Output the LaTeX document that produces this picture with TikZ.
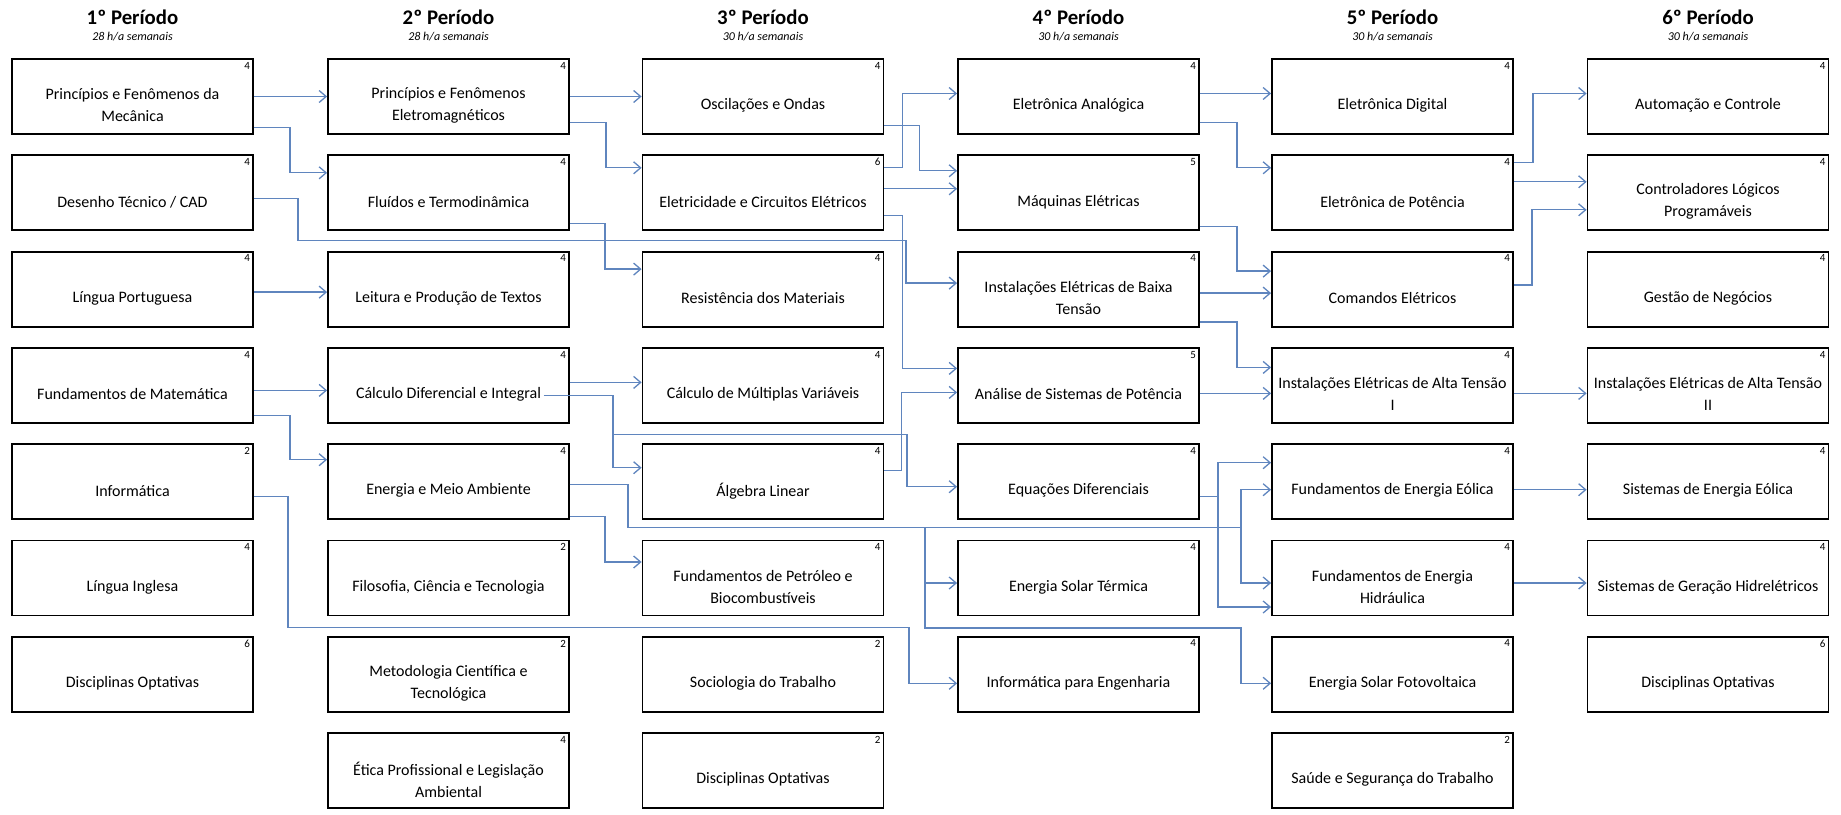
\documentclass[tikz,border=0pt]{standalone}
\usepackage{fontspec}
\setmainfont{Carlito}
\usetikzlibrary{arrows.meta, calc}
\definecolor{liga}{RGB}{95,133,190}

\tikzset{
  caixa/.style={draw, line width=0.9pt, minimum width=120.5pt, minimum height=37.5pt, inner sep=0pt},
  num/.style={anchor=north east, inner sep=1.8pt, font=\fontsize{5.5}{6}\selectfont},
  txt/.style={align=center, yshift=-4.5pt, font=\fontsize{8}{11}\selectfont},
  disc/.style 2 args={caixa, label={[num]north east:#1}, label={[txt]center:{#2}}},
  seta/.style={draw=liga, line width=0.65pt, -{Straight Barb[length=3.5pt, width=6pt]}},
  periodo/.style={font=\bfseries\fontsize{10.4}{12}\selectfont},
  horas/.style={font=\itshape\fontsize{6}{7}\selectfont},
}

\begin{document}
\begin{tikzpicture}[x=0.5pt, y=-0.5pt]
  \useasboundingbox (0,0) rectangle (1841,814);

  % titres des periodes
  \node[periodo] (h1) at (132.5,17) {1º Período};
  \node[horas] (s1) at (132.5,37) {28 h/a semanais};
  \node[periodo] (h2) at (448.5,17) {2º Período};
  \node[horas] (s2) at (448.5,37) {28 h/a semanais};
  \node[periodo] (h3) at (763,17) {3º Período};
  \node[horas] (s3) at (763,37) {30 h/a semanais};
  \node[periodo] (h4) at (1078.5,17) {4º Período};
  \node[horas] (s4) at (1078.5,37) {30 h/a semanais};
  \node[periodo] (h5) at (1392.5,17) {5º Período};
  \node[horas] (s5) at (1392.5,37) {30 h/a semanais};
  \node[periodo] (h6) at (1708,17) {6º Período};
  \node[horas] (s6) at (1708,37) {30 h/a semanais};

  % 1o periodo
  \node[disc={4}{Princípios e Fenômenos da\\Mecânica}] (a1) at (132.5,96.5) {};
  \node[disc={4}{Desenho Técnico / CAD}] (a2) at (132.5,192.8) {};
  \node[disc={4}{Língua Portuguesa}] (a3) at (132.5,289.1) {};
  \node[disc={4}{Fundamentos de Matemática}] (a4) at (132.5,385.4) {};
  \node[disc={2}{Informática}] (a5) at (132.5,481.7) {};
  \node[disc={4}{Língua Inglesa}] (a6) at (132.5,578) {};
  \node[disc={6}{Disciplinas Optativas}] (a7) at (132.5,674.3) {};

  % 2o periodo
  \node[disc={4}{Princípios e Fenômenos\\Eletromagnéticos}] (b1) at (448.5,96.5) {};
  \node[disc={4}{Fluídos e Termodinâmica}] (b2) at (448.5,192.8) {};
  \node[disc={4}{Leitura e Produção de Textos}] (b3) at (448.5,289.1) {};
  \node[disc={4}{Cálculo Diferencial e Integral}] (b4) at (448.5,385.4) {};
  \node[disc={4}{Energia e Meio Ambiente}] (b5) at (448.5,481.7) {};
  \node[disc={2}{Filosofia, Ciência e Tecnologia}] (b6) at (448.5,578) {};
  \node[disc={2}{Metodologia Científica e\\Tecnológica}] (b7) at (448.5,674.3) {};
  \node[disc={4}{Ética Profissional e Legislação\\Ambiental}] (b8) at (448.5,770.6) {};

  % 3o periodo
  \node[disc={4}{Oscilações e Ondas}] (c1) at (763,96.5) {};
  \node[disc={6}{Eletricidade e Circuitos Elétricos}] (c2) at (763,192.8) {};
  \node[disc={4}{Resistência dos Materiais}] (c3) at (763,289.1) {};
  \node[disc={4}{Cálculo de Múltiplas Variáveis}] (c4) at (763,385.4) {};
  \node[disc={4}{Álgebra Linear}] (c5) at (763,481.7) {};
  \node[disc={4}{Fundamentos de Petróleo e\\Biocombustíveis}] (c6) at (763,578) {};
  \node[disc={2}{Sociologia do Trabalho}] (c7) at (763,674.3) {};
  \node[disc={2}{Disciplinas Optativas}] (c8) at (763,770.6) {};

  % 4o periodo
  \node[disc={4}{Eletrônica Analógica}] (d1) at (1078.5,96.5) {};
  \node[disc={5}{Máquinas Elétricas}] (d2) at (1078.5,192.8) {};
  \node[disc={4}{Instalações Elétricas de Baixa\\Tensão}] (d3) at (1078.5,289.1) {};
  \node[disc={5}{Análise de Sistemas de Potência}] (d4) at (1078.5,385.4) {};
  \node[disc={4}{Equações Diferenciais}] (d5) at (1078.5,481.7) {};
  \node[disc={4}{Energia Solar Térmica}] (d6) at (1078.5,578) {};
  \node[disc={4}{Informática para Engenharia}] (d7) at (1078.5,674.3) {};

  % 5o periodo
  \node[disc={4}{Eletrônica Digital}] (e1) at (1392.5,96.5) {};
  \node[disc={4}{Eletrônica de Potência}] (e2) at (1392.5,192.8) {};
  \node[disc={4}{Comandos Elétricos}] (e3) at (1392.5,289.1) {};
  \node[disc={4}{Instalações Elétricas de Alta Tensão\\I}] (e4) at (1392.5,385.4) {};
  \node[disc={4}{Fundamentos de Energia Eólica}] (e5) at (1392.5,481.7) {};
  \node[disc={4}{Fundamentos de Energia\\Hidráulica}] (e6) at (1392.5,578) {};
  \node[disc={4}{Energia Solar Fotovoltaica}] (e7) at (1392.5,674.3) {};
  \node[disc={2}{Saúde e Segurança do Trabalho}] (e8) at (1392.5,770.6) {};

  % 6o periodo
  \node[disc={4}{Automação e Controle}] (f1) at (1708,96.5) {};
  \node[disc={4}{Controladores Lógicos\\Programáveis}] (f2) at (1708,192.8) {};
  \node[disc={4}{Gestão de Negócios}] (f3) at (1708,289.1) {};
  \node[disc={4}{Instalações Elétricas de Alta Tensão\\II}] (f4) at (1708,385.4) {};
  \node[disc={4}{Sistemas de Energia Eólica}] (f5) at (1708,481.7) {};
  \node[disc={4}{Sistemas de Geração Hidrelétricos}] (f6) at (1708,578) {};
  \node[disc={6}{Disciplinas Optativas}] (f7) at (1708,674.3) {};

  % 1o -> 2o
  \draw[seta] (a1.east) -- (b1.west);
  \draw[seta] ($(a1.east)+(0,31)$) -- ++(36,0) |- ($(b2.west)+(0,-20)$);
  \draw[seta] ($(a2.east)+(0,6)$) -- ++(44,0) -- ++(0,42) -| ($(d3.west)+(-51,-6)$) -- ($(d3.west)+(0,-6)$);
  \draw[seta] ($(a3.east)+(0,3)$) -- ($(b3.west)+(0,3)$);
  \draw[seta] ($(a4.east)+(0,5)$) -- ($(b4.west)+(0,5)$);
  \draw[seta] ($(a4.east)+(0,30)$) -- ++(36,0) |- ($(b5.west)+(0,-22)$);
  \draw[seta] ($(a5.east)+(0,15)$) -- ++(34,0) -- ++(0,131) -| ($(d7.west)+(-48,9)$) -- ($(d7.west)+(0,9)$);

  % 2o -> 3o
  \draw[seta] (b1.east) -- (c1.west);
  \draw[seta] ($(b1.east)+(0,26)$) -- ++(36,0) |- ($(c2.west)+(0,-25)$);
  \draw[seta] ($(b2.east)+(0,31)$) -- ++(35,0) |- ($(c3.west)+(0,-20)$);
  \draw[seta] ($(b4.east)+(0,-3)$) -- ($(c4.west)+(0,-3)$);
  \draw[seta] ($(b4.east)+(-26,10)$) -- ++(69,0) |- ($(c5.west)+(0,-14)$);
  \draw[seta] ($(b4.east)+(-26,10)$) -- ++(69,0) -- ++(0,39) -| ($(d5.west)+(-50,5)$) -- ($(d5.west)+(0,5)$);
  \draw[seta] ($(b5.east)+(0,3)$) -- ++(58,0) -- ++(0,43) -| ($(d6.west)+(-32,5)$) -- ($(d6.west)+(0,5)$);
  \draw[seta] ($(b5.east)+(0,3)$) -- ++(58,0) -- ++(0,43) -| ($(e5.west)+(-30,8)$) -- ($(e5.west)+(0,8)$);
  \draw[seta] ($(b5.east)+(0,3)$) -- ++(58,0) -- ++(0,43) -| ($(e6.west)+(-30,5)$) -- ($(e6.west)+(0,5)$);
  \draw[seta] ($(b5.east)+(0,3)$) -- ++(58,0) -- ++(0,43) -| ($(d6.west)+(-32,50)$) -| ($(e7.west)+(-30,9)$) -- ($(e7.west)+(0,9)$);
  \draw[seta] ($(b5.east)+(0,35)$) -- ++(35,0) |- ($(c6.west)+(0,-16)$);

  % 3o -> 4o
  \draw[seta] ($(c1.east)+(0,29)$) -- ++(35,0) |- ($(d2.west)+(0,-22)$);
  \draw[seta] ($(c2.east)+(0,-25)$) -- ++(18,0) |- ($(d1.west)+(0,-3)$);
  \draw[seta] ($(c2.east)+(0,-4)$) -- ($(d2.west)+(0,-4)$);
  \draw[seta] ($(c2.east)+(0,23)$) -- ++(18,0) |- ($(d4.west)+(0,-17)$);
  \draw[seta] ($(c5.east)+(0,-11)$) -- ++(17,0) |- ($(d4.west)+(0,7)$);

  % 4o -> 5o
  \draw[seta] ($(d1.east)+(0,-3)$) -- ($(e1.west)+(0,-3)$);
  \draw[seta] ($(d1.east)+(0,26)$) -- ++(37,0) |- ($(e2.west)+(0,-25)$);
  \draw[seta] ($(d2.east)+(0,34)$) -- ++(37,0) |- ($(e3.west)+(0,-18)$);
  \draw[seta] ($(d3.east)+(0,4)$) -- ($(e3.west)+(0,4)$);
  \draw[seta] ($(d3.east)+(0,33)$) -- ++(37,0) |- ($(e4.west)+(0,-18)$);
  \draw[seta] ($(d4.east)+(0,8)$) -- ($(e4.west)+(0,8)$);
  \draw[seta] ($(d5.east)+(0,15)$) -- ++(18,0) |- ($(e5.west)+(0,-19)$);
  \draw[seta] ($(d5.east)+(0,15)$) -- ++(18,0) |- ($(e6.west)+(0,29)$);

  % 5o -> 6o
  \draw[seta] ($(e2.east)+(0,-30)$) -- ++(19,0) |- ($(f1.west)+(0,-3)$);
  \draw[seta] ($(e2.east)+(0,-11)$) -- ($(f2.west)+(0,-11)$);
  \draw[seta] ($(e3.east)+(0,-4)$) -- ++(18,0) |- ($(f2.west)+(0,17)$);
  \draw[seta] ($(e4.east)+(0,8)$) -- ($(f4.west)+(0,8)$);
  \draw[seta] ($(e5.east)+(0,8)$) -- ($(f5.west)+(0,8)$);
  \draw[seta] ($(e6.east)+(0,5)$) -- ($(f6.west)+(0,5)$);
\end{tikzpicture}
\end{document}
